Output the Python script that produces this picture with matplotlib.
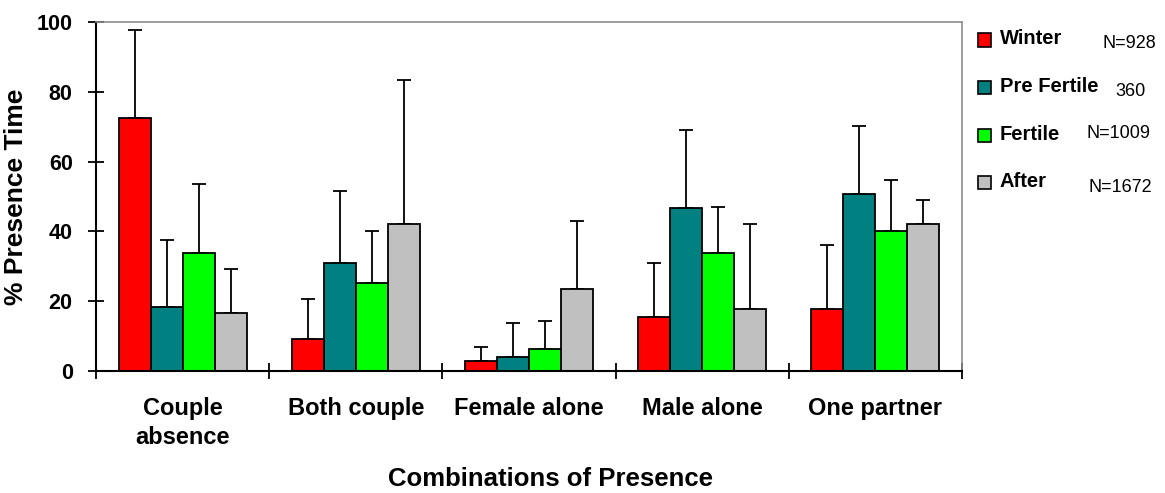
import numpy as np
import matplotlib
matplotlib.use('Agg')
import matplotlib.pyplot as plt
from matplotlib.patches import Rectangle

# Dados
categorias = ['Couple\nabsence', 'Both couple', 'Female alone', 'Male alone', 'One partner']
series = ['Winter', 'Pre Fertile', 'Fertile', 'After']
n_textos = ['N=928', '360', 'N=1009', 'N=1672']
cores = ['#FF0000', '#008080', '#00FF00', '#C0C0C0']

winter = [72.4, 9.2, 2.9, 15.5, 17.8]
pre_fertile = [18.4, 31.0, 4.0, 46.6, 50.7]
fertile = [33.9, 25.3, 6.2, 33.9, 40.2]
after = [16.7, 42.0, 23.6, 17.8, 42.0]

# barras de erro (apenas para cima)
winter_err = [25.3, 11.5, 3.9, 15.4, 18.4]
pre_fertile_err = [19.0, 20.7, 9.8, 22.5, 19.4]
fertile_err = [19.6, 14.9, 8.2, 13.2, 14.4]
after_err = [12.6, 41.4, 19.5, 24.2, 6.9]

valores = [winter, pre_fertile, fertile, after]
erros = [winter_err, pre_fertile_err, fertile_err, after_err]

plt.rcParams['font.family'] = ['Liberation Sans', 'DejaVu Sans']

fig = plt.figure(figsize=(11.65, 4.93), dpi=100)
ax = fig.add_axes([96 / 1165, 1 - 371 / 493, (962 - 96) / 1165, (371 - 22) / 493])

x = np.arange(len(categorias))
largura = 0.185
for i, (nome, vals, errs, cor) in enumerate(zip(series, valores, erros, cores)):
    pos = x + (i - 1.5) * largura
    ax.bar(pos, vals, largura, color=cor, edgecolor='black', linewidth=1.3, zorder=2)
    ax.errorbar(pos, vals, yerr=[np.zeros(len(errs)), errs], fmt='none',
                ecolor='black', elinewidth=1.3, capsize=4.8, capthick=1.3, zorder=1)

ax.set_xlim(-0.5, len(categorias) - 0.5)
ax.set_ylim(0, 100)
ax.set_yticks(np.arange(0, 101, 20))
ax.tick_params(axis='y', direction='inout', length=11.5, width=1.3, pad=11,
               labelsize=15.5)
for t in ax.get_yticklabels():
    t.set_fontweight('bold')

ax.set_xticks(np.arange(-0.5, len(categorias), 1.0))
ax.set_xticklabels([])
ax.tick_params(axis='x', direction='inout', length=11.5, width=1.3)
ax.set_xticks(x, minor=True)
ax.set_xticklabels(categorias, minor=True, fontsize=17, fontweight='bold',
                   linespacing=1.3)
ax.tick_params(axis='x', which='minor', length=0, pad=19)

for lado in ['top', 'right']:
    ax.spines[lado].set_color('#8c8c8c')
    ax.spines[lado].set_linewidth(1.2)
for lado in ['left', 'bottom']:
    ax.spines[lado].set_color('black')
    ax.spines[lado].set_linewidth(1.5)

ax.set_ylabel('% Presence Time', fontsize=19, fontweight='bold', labelpad=6)
fig.text(550 / 1165, 1 - 479 / 493, 'Combinations of Presence', fontsize=18.5,
         fontweight='bold', ha='center', va='center')

# legenda manual
for i, (nome, cor) in enumerate(zip(series, cores)):
    yc = 40 + i * 47.5
    fig.add_artist(Rectangle((978 / 1165, 1 - (yc + 6.5) / 493), 13 / 1165, 13 / 493,
                             transform=fig.transFigure, facecolor=cor,
                             edgecolor='black', linewidth=1.2))
    fig.text(1000 / 1165, 1 - (yc - 1) / 493, nome, fontsize=14.5, fontweight='bold',
             ha='left', va='center')

n_pos = [(1102, 43), (1115, 92), (1087, 133), (1088, 188)]
for ntxt, (px, py) in zip(n_textos, n_pos):
    fig.text(px / 1165, 1 - py / 493, ntxt, fontsize=13, ha='left', va='center')

fig.savefig('out.png', dpi=100, facecolor='white')
